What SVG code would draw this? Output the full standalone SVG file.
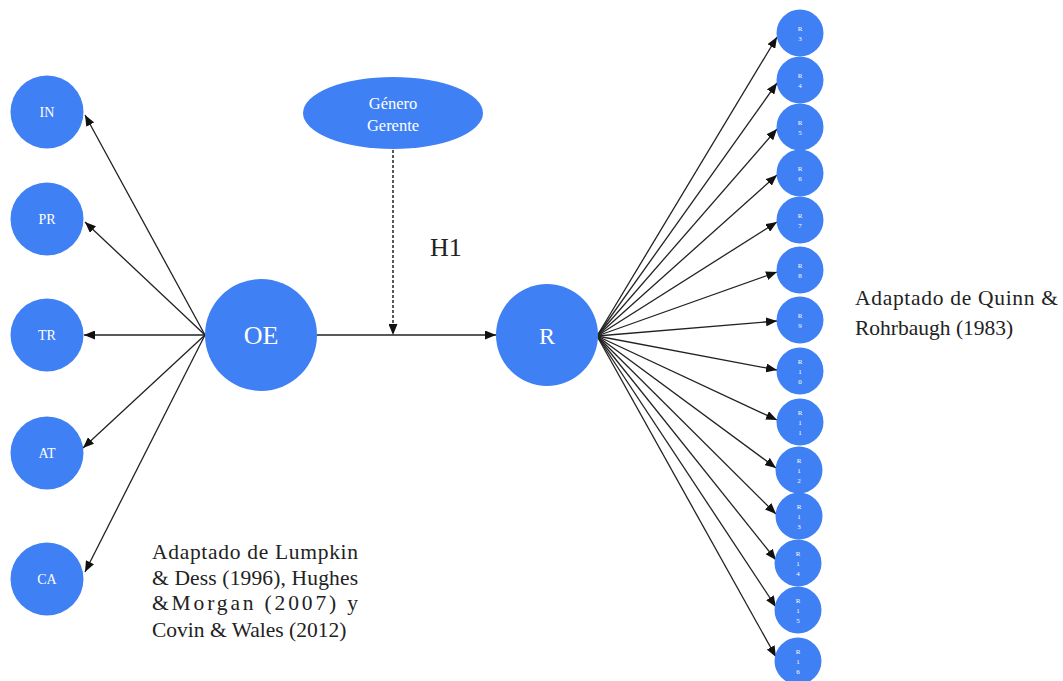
<svg xmlns="http://www.w3.org/2000/svg" width="1063" height="681" viewBox="0 0 1063 681">
<style>
.n{fill:#4080f5}
.t{fill:#fff;font-family:"Liberation Serif",serif;text-anchor:middle}
.s{fill:#fff;font-family:"Liberation Serif",serif;text-anchor:middle;font-size:7px}
.e{stroke:#222;stroke-width:1.3;fill:none;marker-end:url(#a)}
.x{fill:#222;font-family:"Liberation Serif",serif;font-size:21.5px}
</style>
<defs>
<marker id="a" markerUnits="userSpaceOnUse" markerWidth="11" markerHeight="9" refX="11" refY="4.5" orient="auto"><path d="M0,0 L11,4.5 L0,9 z" fill="#111"/></marker>
</defs>
<rect width="1063" height="681" fill="#fff"/>
<g id="connectors">
<line class="e" x1="205" y1="335" x2="85" y2="115"/>
<line class="e" x1="205" y1="335" x2="85" y2="222"/>
<line class="e" x1="205" y1="335" x2="84" y2="335"/>
<line class="e" x1="205" y1="335" x2="83" y2="448"/>
<line class="e" x1="205" y1="335" x2="85" y2="572"/>
<line class="e" x1="317" y1="335" x2="496" y2="335"/>
<line x1="393" y1="150" x2="393" y2="335" stroke="#222" stroke-width="1.5" stroke-dasharray="3,2" marker-end="url(#a)"/>
<line class="e" x1="597" y1="336" x2="777" y2="37"/>
<line class="e" x1="597" y1="336" x2="777" y2="83"/>
<line class="e" x1="597" y1="336" x2="777" y2="129"/>
<line class="e" x1="597" y1="336" x2="777" y2="175"/>
<line class="e" x1="597" y1="336" x2="777" y2="222"/>
<line class="e" x1="597" y1="336" x2="777" y2="272"/>
<line class="e" x1="597" y1="336" x2="777" y2="321"/>
<line class="e" x1="597" y1="336" x2="777" y2="370"/>
<line class="e" x1="597" y1="336" x2="777" y2="420"/>
<line class="e" x1="597" y1="336" x2="776" y2="468"/>
<line class="e" x1="597" y1="336" x2="776" y2="514"/>
<line class="e" x1="597" y1="336" x2="776" y2="560"/>
<line class="e" x1="597" y1="336" x2="776" y2="607"/>
<line class="e" x1="597" y1="336" x2="776" y2="657"/>
</g>
<g id="IN"><circle class="n" cx="47" cy="112" r="36.5"/><text class="t" x="47" y="117" font-size="14">IN</text></g>
<g id="PR"><circle class="n" cx="47" cy="219" r="36.5"/><text class="t" x="47" y="224" font-size="14">PR</text></g>
<g id="TR"><circle class="n" cx="47" cy="335" r="36.5"/><text class="t" x="47" y="340" font-size="14">TR</text></g>
<g id="AT"><circle class="n" cx="47" cy="453" r="36.5"/><text class="t" x="47" y="458" font-size="14">AT</text></g>
<g id="CA"><circle class="n" cx="47" cy="579" r="36.5"/><text class="t" x="47" y="584" font-size="14">CA</text></g>
<g id="OE"><circle class="n" cx="261" cy="335" r="56"/><text class="t" x="261" y="344" font-size="26">OE</text></g>
<g id="R"><circle class="n" cx="547" cy="335" r="51"/><text class="t" x="547" y="344" font-size="24">R</text></g>
<g id="genero"><ellipse class="n" cx="393" cy="113" rx="90" ry="36"/><text class="t" x="393" y="109" font-size="16.5">Género</text><text class="t" x="393" y="131" font-size="16.5">Gerente</text></g>
<text id="H1" x="430" y="256" font-family="Liberation Serif, serif" font-size="26" fill="#222">H1</text>
<g id="R3"><circle class="n" cx="800" cy="33" r="23.5"/><text class="s" x="800" y="31">R</text><text class="s" x="800" y="41">3</text></g>
<g id="R4"><circle class="n" cx="800" cy="80" r="23.5"/><text class="s" x="800" y="78">R</text><text class="s" x="800" y="88">4</text></g>
<g id="R5"><circle class="n" cx="800" cy="127" r="23.5"/><text class="s" x="800" y="125">R</text><text class="s" x="800" y="135">5</text></g>
<g id="R6"><circle class="n" cx="800" cy="173" r="23.5"/><text class="s" x="800" y="171">R</text><text class="s" x="800" y="181">6</text></g>
<g id="R7"><circle class="n" cx="800" cy="220" r="23.5"/><text class="s" x="800" y="218">R</text><text class="s" x="800" y="228">7</text></g>
<g id="R8"><circle class="n" cx="800" cy="270" r="23.5"/><text class="s" x="800" y="268">R</text><text class="s" x="800" y="278">8</text></g>
<g id="R9"><circle class="n" cx="800" cy="320" r="23.5"/><text class="s" x="800" y="318">R</text><text class="s" x="800" y="328">9</text></g>
<g id="R10"><circle class="n" cx="800" cy="371" r="23.5"/><text class="s" x="800" y="364">R</text><text class="s" x="800" y="374">1</text><text class="s" x="800" y="384">0</text></g>
<g id="R11"><circle class="n" cx="800" cy="422" r="23.5"/><text class="s" x="800" y="415">R</text><text class="s" x="800" y="425">1</text><text class="s" x="800" y="435">1</text></g>
<g id="R12"><circle class="n" cx="799" cy="470" r="23.5"/><text class="s" x="799" y="463">R</text><text class="s" x="799" y="473">1</text><text class="s" x="799" y="483">2</text></g>
<g id="R13"><circle class="n" cx="799" cy="516" r="23.5"/><text class="s" x="799" y="509">R</text><text class="s" x="799" y="519">1</text><text class="s" x="799" y="529">3</text></g>
<g id="R14"><circle class="n" cx="798" cy="563" r="23.5"/><text class="s" x="798" y="556">R</text><text class="s" x="798" y="566">1</text><text class="s" x="798" y="576">4</text></g>
<g id="R15"><circle class="n" cx="798" cy="610" r="23.5"/><text class="s" x="798" y="603">R</text><text class="s" x="798" y="613">1</text><text class="s" x="798" y="623">5</text></g>
<g id="R16"><circle class="n" cx="798" cy="661" r="23.5"/><text class="s" x="798" y="654">R</text><text class="s" x="798" y="664">1</text><text class="s" x="798" y="674">6</text></g>
<g id="note-left" class="x">
<text x="152" y="559" textLength="206" lengthAdjust="spacing">Adaptado de Lumpkin</text>
<text x="152" y="585" textLength="206" lengthAdjust="spacing">&amp; Dess (1996), Hughes</text>
<text x="152" y="610" textLength="206" lengthAdjust="spacing">&amp;Morgan (2007) y</text>
<text x="152" y="637">Covin &amp; Wales (2012)</text>
</g>
<g id="note-right" class="x">
<text x="855" y="305" textLength="203" lengthAdjust="spacing">Adaptado de Quinn &amp;</text>
<text x="855" y="335">Rohrbaugh (1983)</text>
</g>
</svg>
